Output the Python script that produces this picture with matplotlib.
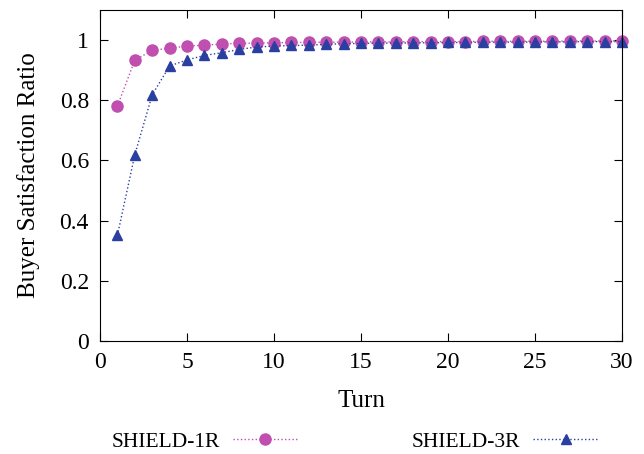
import matplotlib
matplotlib.use('Agg')
import matplotlib.pyplot as plt

plt.rcParams.update({
    'font.family': ['Liberation Serif', 'DejaVu Serif'],
    'font.size': 17,
    'xtick.direction': 'in',
    'ytick.direction': 'in',
    'xtick.top': True,
    'ytick.right': True,
})

turns = list(range(1, 31))
shield_1r = [0.781, 0.933, 0.966, 0.973, 0.980, 0.983, 0.987, 0.989, 0.990, 0.991,
             0.992, 0.992, 0.993, 0.993, 0.994, 0.994, 0.994, 0.995, 0.995, 0.995,
             0.995, 0.996, 0.996, 0.996, 0.996, 0.996, 0.997, 0.997, 0.997, 0.997]
shield_3r = [0.351, 0.619, 0.818, 0.914, 0.934, 0.949, 0.958, 0.969, 0.977, 0.980,
             0.982, 0.983, 0.986, 0.988, 0.989, 0.990, 0.990, 0.991, 0.991, 0.992,
             0.992, 0.993, 0.993, 0.993, 0.994, 0.994, 0.994, 0.995, 0.995, 0.995]

fig = plt.figure(figsize=(6.44, 4.54), dpi=100)
ax = fig.add_axes([0.1553, 0.2489, 0.8105, 0.7291])

ax.plot(turns, shield_1r, linestyle=':', linewidth=1, color='#c04fb0',
        marker='o', markersize=8, label='SHIELD-1R', clip_on=False)
ax.plot(turns, shield_3r, linestyle=':', linewidth=1, color='#2b3fa0',
        marker='^', markersize=7.5, label='SHIELD-3R', clip_on=False)

ax.set_xlim(0, 30)
ax.set_ylim(0, 1.1)
ax.set_xticks([0, 5, 10, 15, 20, 25, 30])
ax.set_yticks([0, 0.2, 0.4, 0.6, 0.8, 1.0])
ax.set_yticklabels(['0', '0.2', '0.4', '0.6', '0.8', '1'])
ax.tick_params(length=6, width=0.8, pad=8, labelsize=17)
ax.set_xlabel('Turn', fontsize=18, labelpad=12)
ax.set_ylabel('Buyer Satisfaction Ratio', fontsize=18, labelpad=14)

fig.legend(loc='center', bbox_to_anchor=(0.551, 0.027), ncol=2, frameon=False,
           fontsize=15.5, markerfirst=False, handlelength=3.0, handletextpad=0.6,
           columnspacing=5.3)

fig.savefig('out.png', dpi=100)
